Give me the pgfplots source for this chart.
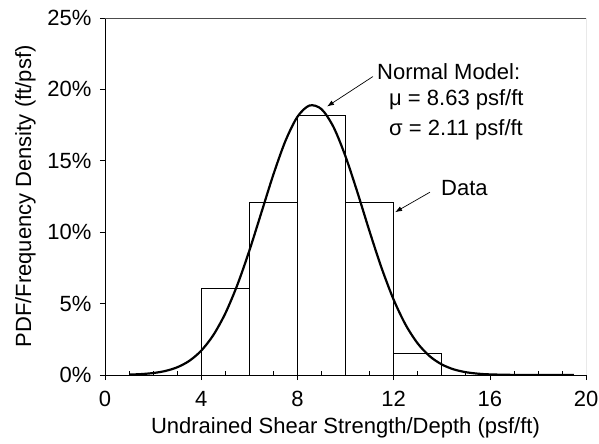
\documentclass[border=0pt]{standalone}
\usepackage{fontspec}
\setmainfont{Liberation Sans}
\usepackage{pgfplots}
\pgfplotsset{compat=1.18}
\usetikzlibrary{arrows.meta}
\begin{document}
\begin{tikzpicture}
\begin{axis}[name=ax, scale only axis, width=481bp, height=357bp,
  xmin=0, xmax=20, ymin=0, ymax=25,
  axis x line*=bottom, axis y line*=left,
  axis line style={black, line width=0.8pt},
  xtick={0,4,...,20}, xticklabels={0,4,8,12,16,20},
  minor x tick num=3,
  ytick={0,5,...,25}, yticklabels={0\%,5\%,10\%,15\%,20\%,25\%},
  tick align=outside, major tick length=5bp, minor tick length=4bp,
  minor x tick style={yshift=4bp},
  tick style={black, line width=0.6pt},
  ticklabel style={font=\fontsize{22bp}{26bp}\selectfont},
  label style={font=\fontsize{22bp}{26bp}\selectfont},
  xticklabel style={yshift=-8bp},
  yticklabel style={xshift=-5bp},
  xlabel={Undrained Shear Strength/Depth (psf/ft)},
  ylabel={PDF/Frequency Density (ft/psf)},
  xlabel style={yshift=-4bp},
  ylabel style={yshift=5bp},
]
\addplot[black, line width=0.6pt, ybar interval, fill=none, draw=black] coordinates {
(4,6.06) (6,12.12) (8,18.18) (10,12.12) (12,1.52) (14,1.52)};
\addplot[black, line width=2.2pt, smooth, mark=none] coordinates {
(1,0.027) (1.5,0.063) (2,0.136) (2.5,0.278) (3,0.538) (3.5,0.984) (4,1.701)
(4.5,2.783) (5,4.303) (5.5,6.294) (6,8.696) (6.5,11.36) (7,14.03) (7.5,16.38)
(8,18.08) (8.5,18.87) (9,18.62) (9.5,17.37) (10,15.31) (10.5,12.77)
(11,10.06) (11.5,7.497) (12,5.281) (12.5,3.517) (13,2.214) (13.5,1.317)
(14,0.742) (14.5,0.394) (15,0.198) (15.5,0.094) (16,0.042) (17,0.007)
(18,0.001) (19.5,0)};
\draw[gray!60!black, line width=0.8pt] (rel axis cs:0,1) -- (rel axis cs:1,1) -- (rel axis cs:1,0);
\draw[-{Latex[length=7bp,width=5bp]}, line width=0.7pt] (axis cs:11.14,20.9) -- (axis cs:9.23,18.8);
\draw[-{Latex[length=7bp,width=5bp]}, line width=0.7pt] (axis cs:13.51,12.8) -- (axis cs:12.06,11.4);
\node[anchor=west, inner sep=0pt, font=\fontsize{22bp}{26bp}\selectfont] at (axis cs:11.31,21.22) {Normal Model:};
\node[anchor=west, inner sep=0pt, font=\fontsize{22bp}{26bp}\selectfont] at (axis cs:11.81,19.26) {μ = 8.63 psf/ft};
\node[anchor=west, inner sep=0pt, font=\fontsize{22bp}{26bp}\selectfont] at (axis cs:11.81,17.16) {σ = 2.11 psf/ft};
\node[anchor=west, inner sep=0pt, font=\fontsize{22bp}{26bp}\selectfont] at (axis cs:13.97,13.1) {Data};
\end{axis}
\pgfresetboundingbox
\path ([shift={(-105bp,-69bp)}]ax.south west) rectangle ([shift={(13bp,18bp)}]ax.north east);
\end{tikzpicture}
\end{document}
